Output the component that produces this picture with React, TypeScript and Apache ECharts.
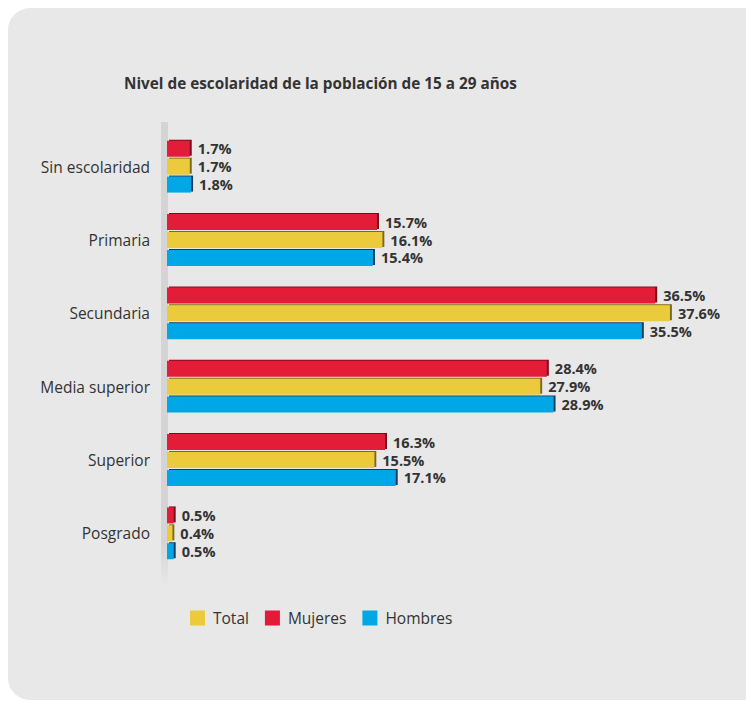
import React, { useEffect, useRef } from "react";
import * as echarts from "echarts";

const categories = ["Sin escolaridad", "Primaria", "Secundaria", "Media superior", "Superior", "Posgrado"];
const mujeres = [1.7, 15.7, 36.5, 28.4, 16.3, 0.5];
const total = [1.7, 16.1, 37.6, 27.9, 15.5, 0.4];
const hombres = [1.8, 15.4, 35.5, 28.9, 17.1, 0.5];
const legendOrder = ["Total", "Mujeres", "Hombres"];

const FONT = "'Open Sans', 'Noto Sans', sans-serif";

export default function App() {
  const ref = useRef<HTMLDivElement>(null);
  useEffect(() => {
    const chart = echarts.init(ref.current!, undefined, { renderer: "svg" });
    const mk = (name: string, data: number[], color: string, edge: string) => ({
      name,
      type: "bar",
      data,
      barWidth: 16,
      barGap: "12%",
      itemStyle: {
        color,
        shadowColor: edge,
        shadowOffsetX: 2,
        shadowOffsetY: -1,
        shadowBlur: 0,
      },
      label: {
        show: true,
        position: "right",
        distance: 8,
        formatter: (p: any) => Number(p.value).toFixed(1) + "%",
        color: "#333",
        fontWeight: "bold",
        fontSize: 14.5,
        fontFamily: FONT,
      },
    });
    chart.setOption({
      animation: false,
      backgroundColor: "#ffffff",
      title: {
        text: "Nivel de escolaridad de la población de 15 a 29 años",
        left: 119,
        top: 70,
        textStyle: { fontSize: 15.3, fontWeight: "bold", color: "#333", fontFamily: FONT },
      },
      graphic: [
        {
          type: "rect",
          z: -10,
          shape: { x: 8, y: 8, width: 760, height: 692, r: 22 },
          style: { fill: "#e8e8e8" },
          silent: true,
        },
        {
          type: "rect",
          z: -5,
          shape: { x: 161, y: 122, width: 7, height: 465 },
          style: {
            fill: new echarts.graphic.LinearGradient(0, 0, 0, 1, [
              { offset: 0, color: "#d4d4d4" },
              { offset: 0.9, color: "#d4d4d4" },
              { offset: 1, color: "rgba(212,212,212,0)" },
            ]),
          },
          silent: true,
        },
      ],
      legend: {
        data: legendOrder,
        left: 190,
        top: 610,
        padding: 0,
        icon: "rect",
        itemWidth: 15,
        itemHeight: 15,
        itemGap: 16,
        textStyle: { fontSize: 15.5, color: "#333", fontFamily: FONT, padding: [0, 0, 0, 3] },
      },
      grid: { left: 167, top: 130, width: 535, height: 440, containLabel: false },
      xAxis: { type: "value", min: 0, max: 40, show: false },
      yAxis: {
        type: "category",
        data: categories,
        inverse: true,
        axisLine: { show: false },
        axisTick: { show: false },
        axisLabel: { margin: 17, fontSize: 15.5, color: "#333", fontFamily: FONT },
      },
      series: [
        mk("Mujeres", mujeres, "#e31b38", "#7a0d1c"),
        mk("Total", total, "#ebcb3b", "#7d6a18"),
        mk("Hombres", hombres, "#02a7e6", "#0b3d5a"),
      ],
    });
    return () => chart.dispose();
  }, []);
  return (
    <div
      ref={ref}
      style={{ position: "absolute", left: 0, top: 0, width: 746, height: 701 }}
    />
  );
}
